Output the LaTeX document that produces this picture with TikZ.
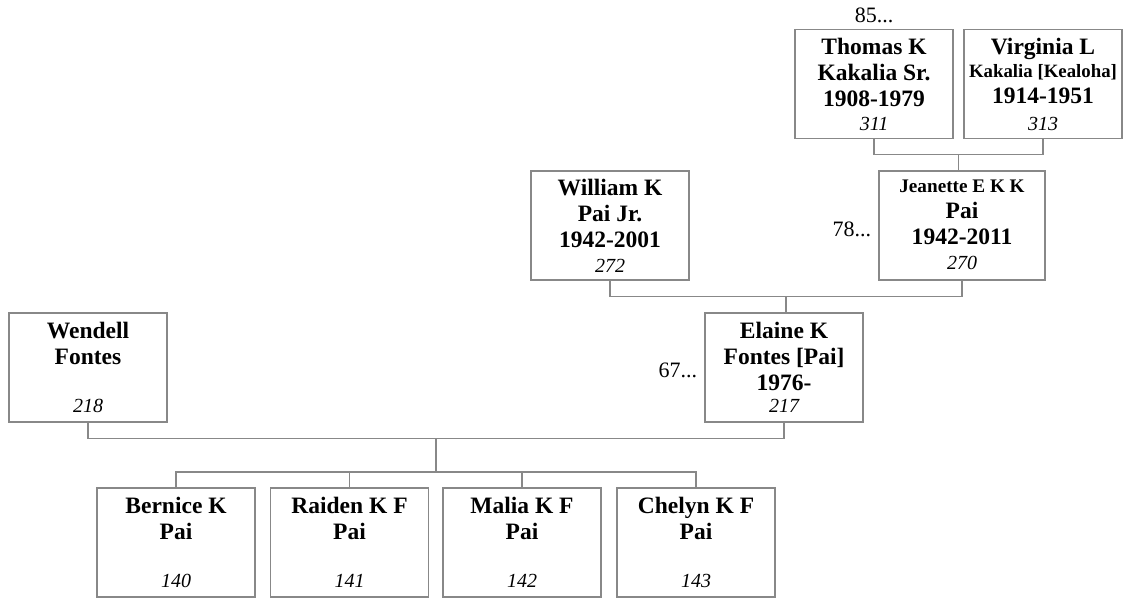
\documentclass[tikz,border=0pt]{standalone}
\usepackage{fontspec}
\setmainfont{Liberation Serif}
\usetikzlibrary{calc}
\definecolor{linegray}{RGB}{136,136,136}
\begin{document}
\begin{tikzpicture}[x=1pt,y=-1pt,
  person/.style={draw=linegray, line width=1.3pt, minimum width=158pt, minimum height=109pt, inner sep=0pt},
  nametext/.style={anchor=north, inner sep=0pt, align=center, font=\bfseries\fontsize{23.5}{26}\selectfont},
  idtext/.style={anchor=base, inner sep=0pt, font=\itshape\fontsize{20}{24}\selectfont},
  side/.style={inner sep=0pt, font=\fontsize{22}{26}\selectfont},
  link/.style={draw=linegray, line width=1.3pt}]
\useasboundingbox (0,0) rectangle (1131,599);

% boxes
\node[person] (thomas) at (874,84) {};
\node[person] (virginia) at (1043,84) {};
\node[person, minimum width=166pt] (jeanette) at (962,225.5) {};
\node[person] (william) at (610,225.5) {};
\node[person] (wendell) at (88,367.5) {};
\node[person] (elaine) at (784,367.5) {};
\node[person] (bernice) at (176,542.5) {};
\node[person] (raiden) at (349.5,542.5) {};
\node[person] (malia) at (522,542.5) {};
\node[person] (chelyn) at (696,542.5) {};

% names
\node[nametext] (thomasN) at ([yshift=-9.5pt]thomas.north) {Thomas K\\Kakalia Sr.\\1908-1979};
\node[nametext] (virginiaN) at ([yshift=-9.5pt]virginia.north) {Virginia L\\[-3pt]{\fontsize{18.8}{22}\selectfont Kakalia [Kealoha]}\\1914-1951};
\node[nametext] (jeanetteN) at ([yshift=-9pt]jeanette.north) {{\fontsize{19.2}{22}\selectfont Jeanette E K K}\\Pai\\1942-2011};
\node[nametext] (williamN) at ([yshift=-8.5pt]william.north) {William K\\Pai Jr.\\1942-2001};
\node[nametext] (wendellN) at ([yshift=-9.5pt]wendell.north) {Wendell\\Fontes};
\node[nametext] (elaineN) at ([yshift=-9.5pt]elaine.north) {Elaine K\\Fontes [Pai]\\1976-};
\node[nametext] (berniceN) at ([yshift=-9.5pt]bernice.north) {Bernice K\\Pai};
\node[nametext] (raidenN) at ([yshift=-9.5pt]raiden.north) {Raiden K F\\Pai};
\node[nametext] (maliaN) at ([yshift=-9.5pt]malia.north) {Malia K F\\Pai};
\node[nametext] (chelynN) at ([yshift=-9.5pt]chelyn.north) {Chelyn K F\\Pai};

% ids
\node[idtext] (thomasI) at ([yshift=9pt]thomas.south) {311};
\node[idtext] (virginiaI) at ([yshift=9pt]virginia.south) {313};
\node[idtext] (jeanetteI) at ([yshift=11pt]jeanette.south) {270};
\node[idtext] (williamI) at ([yshift=8.5pt]william.south) {272};
\node[idtext] (wendellI) at ([yshift=10pt]wendell.south) {218};
\node[idtext] (elaineI) at ([yshift=10pt]elaine.south) {217};
\node[idtext] (berniceI) at ([yshift=10pt]bernice.south) {140};
\node[idtext] (raidenI) at ([yshift=10pt]raiden.south) {141};
\node[idtext] (maliaI) at ([yshift=10pt]malia.south) {142};
\node[idtext] (chelynI) at ([yshift=10pt]chelyn.south) {143};

% side labels
\node[side, anchor=base] (l85) at ($(thomas.north)+(0,-6)$) {85...};
\node[side, anchor=base east] (l78) at ($(jeanette.west)+(-7,10.5)$) {78...};
\node[side, anchor=base east] (l67) at ($(elaine.west)+(-7,9.5)$) {67...};

% connectors
\coordinate (tv) at ($(thomas.south)!0.5!(virginia.south)+(0,15)$);
\draw[link] (thomas.south) -- ++(0,15) -| (virginia.south);
\draw[link] (tv) -- (tv |- jeanette.north);

\coordinate (wj) at ($(william.south)!0.5!(jeanette.south)+(0,16)$);
\draw[link] (william.south) -- ++(0,16) -| (jeanette.south);
\draw[link] (wj) -- (wj |- elaine.north);

\coordinate (we) at ($(wendell.south)!0.5!(elaine.south)+(0,16)$);
\draw[link] (wendell.south) -- ++(0,16) -| (elaine.south);
\coordinate (bus) at (we |- 0,472);
\draw[link] (we) -- (bus);
\draw[link] (bernice.north) -- (bernice.north |- bus) -- (chelyn.north |- bus) -- (chelyn.north);
\draw[link] (raiden.north) -- (raiden.north |- bus);
\draw[link] (malia.north) -- (malia.north |- bus);
\end{tikzpicture}
\end{document}
